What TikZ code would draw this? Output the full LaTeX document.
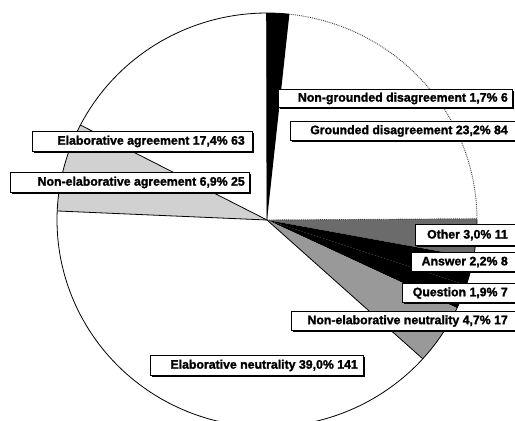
\documentclass[tikz,border=0pt]{standalone}
\usepackage{fontspec}
\setmainfont{Liberation Sans}
\newfontfamily\labfont[FakeBold=1.6]{Liberation Sans Bold}
\begin{document}
\begin{tikzpicture}[x=1pt,y=-1pt]
\useasboundingbox (0,0) rectangle (515,421);
\clip (0,0) rectangle (515,421);
\def\cx{267}\def\cy{220}\def\rx{210}\def\ry{207}
\coordinate (C) at (\cx,\cy);
\tikzset{
  edge/.style={line width=0.8pt, black},
  lightdots/.style={fill=black!18},
  middots/.style={fill=black!40},
  darkdots/.style={fill=black!58},
  labtext/.style={anchor=east, inner sep=0pt, font=\labfont\fontsize{12.3}{14}\selectfont},
  labbox/.style={fill=white, draw=black, line width=0.7pt},
}
\newcommand\pieslice[3]{\fill[#3] (C) -- plot[domain=#1:#2,samples=40] ({\cx+\rx*cos(\x)},{\cy-\ry*sin(\x)}) -- cycle;}
\newcommand\rim[2]{({\cx+\rx*cos(#2)},{\cy-\ry*sin(#2)}) coordinate (#1)}
% slices
\pieslice{83.88}{90.1}{black}
\pieslice{-10.44}{0.36}{darkdots}
\pieslice{-18.36}{-10.44}{black}
\pieslice{-25.2}{-18.36}{black}
\pieslice{-42.12}{-25.2}{middots}
\pieslice{152.7}{177.5}{lightdots}
% outline
\draw[edge] plot[domain=83.88:360,samples=200] ({\cx+\rx*cos(\x)},{\cy-\ry*sin(\x)});
\draw[densely dotted, line width=0.9pt, black!75] plot[domain=0:83.88,samples=80] ({\cx+\rx*cos(\x)},{\cy-\ry*sin(\x)});
\path \rim{a1}{152.7} \rim{a2}{177.5} \rim{a3}{-42.12} \rim{a4}{0.36} \rim{a5}{90.1};
\draw[edge] (C) -- (a1);
\draw[edge] (C) -- (a2);
\draw[edge] (C) -- (a3);
\draw[edge] (C) -- (a5);
\draw[densely dotted, line width=0.9pt, black!75] (C) -- (a4);
% labels
\newcommand\lab[7]{%
  \fill[black] ({#2+1.6},{#3+1.6}) rectangle ({#4+1.6},{#5+1.6});
  \draw[labbox] (#2,#3) rectangle (#4,#5);
  \node[labtext] (#1) at ({#6},{(#3+#5)/2+0.5}) {#7};}
\lab{ngd}{278}{89}{512}{107}{508}{Non-grounded disagreement 1,7\% 6}
\lab{gd}{290}{121}{522}{140}{508}{Grounded disagreement 23,2\% 84}
\lab{ea}{32}{131}{252}{151}{245}{Elaborative agreement 17,4\% 63}
\lab{nea}{10}{172}{249}{192}{245}{Non-elaborative agreement 6,9\% 25}
\lab{oth}{415}{224}{522}{245}{508}{Other 3,0\% 11}
\lab{ans}{411}{252}{522}{271}{508}{Answer 2,2\% 8}
\lab{que}{402}{283}{522}{302}{508}{Question 1,9\% 7}
\lab{nen}{291}{311}{522}{330}{508}{Non-elaborative neutrality 4,7\% 17}
\lab{en}{150}{355}{363}{375}{358}{Elaborative neutrality 39,0\% 141}
\end{tikzpicture}
\end{document}
